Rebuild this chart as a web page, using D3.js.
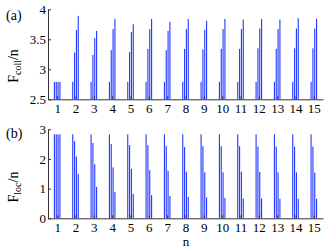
<!DOCTYPE html>
<html><head><meta charset="utf-8">
<script src="https://cdn.jsdelivr.net/npm/d3@7"></script>
<style>
body{margin:0;background:#fff}
svg{display:block}
text{font-family:"Liberation Serif","Times New Roman",serif;fill:#000}
</style>
</head><body>
<svg id="c" width="332" height="250"></svg>
<script>
// ---- data ----
const nValues = [1,2,3,4,5,6,7,8,9,10,11,12,13,14,15];
const xTickLabels = ["1","2","3","4","5","6","7","8","9","10","11","12","13","14","15"];

const fCollBar1 = [2.79,2.79,2.79,2.79,2.79,2.79,2.79,2.79,2.79,2.79,2.79,2.79,2.79,2.79,2.79];
const fCollBar2 = [2.79,3.28,3.24,3.32,3.29,3.34,3.32,3.34,3.33,3.34,3.34,3.35,3.34,3.35,3.35];
const fCollBar3 = [2.79,3.655,3.52,3.67,3.62,3.67,3.64,3.67,3.66,3.67,3.67,3.68,3.67,3.68,3.68];
const fCollBar4 = [2.79,3.89,3.64,3.84,3.75,3.84,3.79,3.84,3.81,3.84,3.83,3.84,3.83,3.85,3.84];
const fCollTicks = [2.5,3,3.5,4];
const fCollTickLabels = ["2.5","3","3.5","4"];

const fLocBar1 = [2.83,2.83,2.83,2.83,2.83,2.83,2.83,2.83,2.83,2.83,2.83,2.83,2.83,2.83,2.83];
const fLocBar2 = [2.83,2.60,2.54,2.50,2.47,2.46,2.44,2.40,2.43,2.43,2.43,2.42,2.42,2.42,2.42];
const fLocBar3 = [2.83,2.08,1.82,1.72,1.67,1.62,1.60,1.57,1.55,1.55,1.57,1.56,1.55,1.55,1.54];
const fLocBar4 = [2.83,1.49,1.06,0.89,0.82,0.78,0.75,0.72,0.70,0.69,0.67,0.67,0.66,0.66,0.66];
const fLocTicks = [0,1,2,3];
const fLocTickLabels = ["0","1","2","3"];

// ---- layout ----
const svg = d3.select("#c");
const x = d3.scaleLinear().domain([0.5,15.5]).range([48,323]);
const barOffsets = [-0.15,-0.05,0.05,0.15];
const barW = 1.1;
const barColor = "rgb(35,55,255)";

function panel(cfg){
  const y = d3.scaleLinear().domain(cfg.domain).range(cfg.range);
  const g = svg.append("g");
  const series = [cfg.s1,cfg.s2,cfg.s3,cfg.s4];
  series.forEach((s,i)=>{
    g.append("g").selectAll("rect").data(nValues).join("rect")
      .attr("x", (d,j)=> x(d + barOffsets[i]) - barW/2)
      .attr("width", barW)
      .attr("y", (d,j)=> y(s[j]))
      .attr("height", (d,j)=> y(cfg.domain[0]) - y(s[j]))
      .attr("fill", barColor);
  });
  const xa = g.append("g").attr("transform",`translate(0,${cfg.range[0]})`)
    .call(d3.axisBottom(x).tickValues(nValues).tickFormat((d,i)=>xTickLabels[i])
      .tickSizeInner(-3).tickSizeOuter(0).tickPadding(4.5));
  const ya = g.append("g").attr("transform",`translate(${x.range()[0]},0)`)
    .call(d3.axisLeft(y).tickValues(cfg.ticks).tickFormat((d,i)=>cfg.tickLabels[i])
      .tickSizeInner(-3).tickSizeOuter(0).tickPadding(2));
  [xa,ya].forEach(a=>{
    a.selectAll("path,line").attr("stroke","#333");
    a.selectAll("text").attr("font-size",13).attr("font-family",'"Liberation Serif",serif');
  });
  // y label
  const t = g.append("text")
    .attr("transform",`translate(18,${cfg.labelY}) rotate(-90)`)
    .attr("text-anchor","middle").attr("font-size",14);
  t.append("tspan").text("F");
  t.append("tspan").attr("dy",3).attr("font-size",10).text(cfg.sub);
  t.append("tspan").attr("dy",-3).text("/n");
  // panel letter
  g.append("text").attr("x",6).attr("y",cfg.letterY).attr("font-size",14).text(cfg.letter);
}

panel({domain:[2.5,4], range:[99.3,9.3], ticks:fCollTicks, tickLabels:fCollTickLabels,
  s1:fCollBar1,s2:fCollBar2,s3:fCollBar3,s4:fCollBar4, sub:"coll", labelY:66, letter:"(a)", letterY:20});
panel({domain:[0,3], range:[218.3,129.3], ticks:fLocTicks, tickLabels:fLocTickLabels,
  s1:fLocBar1,s2:fLocBar2,s3:fLocBar3,s4:fLocBar4, sub:"loc", labelY:187, letter:"(b)", letterY:138});

svg.append("text").attr("x",186).attr("y",246).attr("text-anchor","middle")
  .attr("font-size",13).text("n");
</script>
</body></html>
